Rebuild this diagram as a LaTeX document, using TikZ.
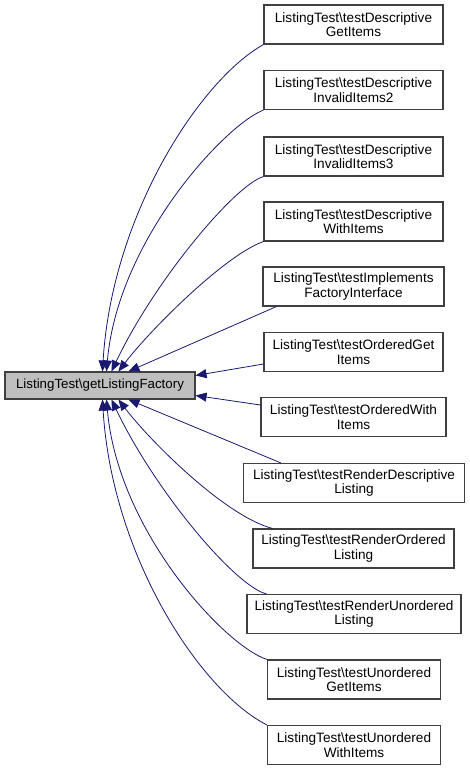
\documentclass[tikz,border=0pt]{standalone}
\usepackage{fontspec}
\setmainfont{Liberation Sans}
\usetikzlibrary{arrows.meta,calc}
\definecolor{edgeblue}{HTML}{191970}
\definecolor{boxline}{HTML}{404040}
\definecolor{mainfill}{HTML}{BFBFBF}
\begin{document}
\begin{tikzpicture}[x=1pt,y=-1pt,
  box/.style={draw=boxline,line width=1.1pt,fill=white,align=center,inner sep=0pt,
    minimum height=39pt,font=\fontsize{13.6}{14.5}\selectfont},
  mainbox/.style={draw=boxline,line width=1.1pt,fill=mainfill,align=center,inner sep=0pt,
    minimum width=190pt,minimum height=27pt,font=\fontsize{13.3}{14.5}\selectfont},
  edge/.style={draw=edgeblue,line width=0.8pt,-{Triangle[length=11pt,width=9pt,fill=edgeblue]}}]
\useasboundingbox (0,0) rectangle (469,771);
\fill[white] (0,0) rectangle (469,771);

\node[mainbox] (m) at (100,385.5) {ListingTest\textbackslash getListingFactory};

\node[box,minimum width=179pt] (b1) at (353.5,24.5) {ListingTest\textbackslash testDescriptive\\GetItems};
\node[box,minimum width=179pt] (b2) at (353.5,90) {ListingTest\textbackslash testDescriptive\\InvalidItems2};
\node[box,minimum width=179pt] (b3) at (353.5,156.5) {ListingTest\textbackslash testDescriptive\\InvalidItems3};
\node[box,minimum width=179pt] (b4) at (353.5,221.5) {ListingTest\textbackslash testDescriptive\\WithItems};
\node[box,minimum width=181pt] (b5) at (353.5,286.5) {ListingTest\textbackslash testImplements\\FactoryInterface};
\node[box,minimum width=179pt] (b6) at (353.5,352) {ListingTest\textbackslash testOrderedGet\\Items};
\node[box,minimum width=185pt] (b7) at (353.5,417) {ListingTest\textbackslash testOrderedWith\\Items};
\node[box,minimum width=221pt] (b8) at (354,483) {ListingTest\textbackslash testRenderDescriptive\\Listing};
\node[box,minimum width=201pt] (b9) at (353.5,548.5) {ListingTest\textbackslash testRenderOrdered\\Listing};
\node[box,minimum width=214pt] (b10) at (354,614) {ListingTest\textbackslash testRenderUnordered\\Listing};
\node[box,minimum width=173pt] (b11) at (354,679.5) {ListingTest\textbackslash testUnordered\\GetItems};
\node[box,minimum width=173pt] (b12) at (354,745) {ListingTest\textbackslash testUnordered\\WithItems};

\draw[edge] (b1.south west) .. controls (200,80) and (112,215) .. ($(m.north west)+(98,0)$);
\draw[edge] (b2.south west) .. controls (225,125) and (118,240) .. ($(m.north west)+(102,0)$);
\draw[edge] (b3.south west) .. controls (235,185) and (155,280) .. ($(m.north west)+(107,0)$);
\draw[edge] (b4.south west) .. controls (225,255) and (150,330) .. ($(m.north west)+(114,0)$);
\draw[edge] ($(b5.south west)+(14,0)$) -- ($(m.north west)+(124,0)$);
\draw[edge] ($(b6.west)+(0,12)$) -- ($(m.east)+(0,-10)$);
\draw[edge] ($(b7.west)+(0,-12)$) -- ($(m.east)+(0,10)$);
\draw[edge] ($(b8.north west)+(38,0)$) -- ($(m.south west)+(124,0)$);
\draw[edge] ($(b9.north west)+(20,0)$) .. controls (225,516) and (150,441) .. ($(m.south west)+(114,0)$);
\draw[edge] ($(b10.north west)+(20,0)$) .. controls (235,586) and (155,491) .. ($(m.south west)+(107,0)$);
\draw[edge] (b11.north west) .. controls (225,646) and (118,531) .. ($(m.south west)+(102,0)$);
\draw[edge] (b12.north west) .. controls (200,691) and (112,556) .. ($(m.south west)+(98,0)$);
\end{tikzpicture}
\end{document}
